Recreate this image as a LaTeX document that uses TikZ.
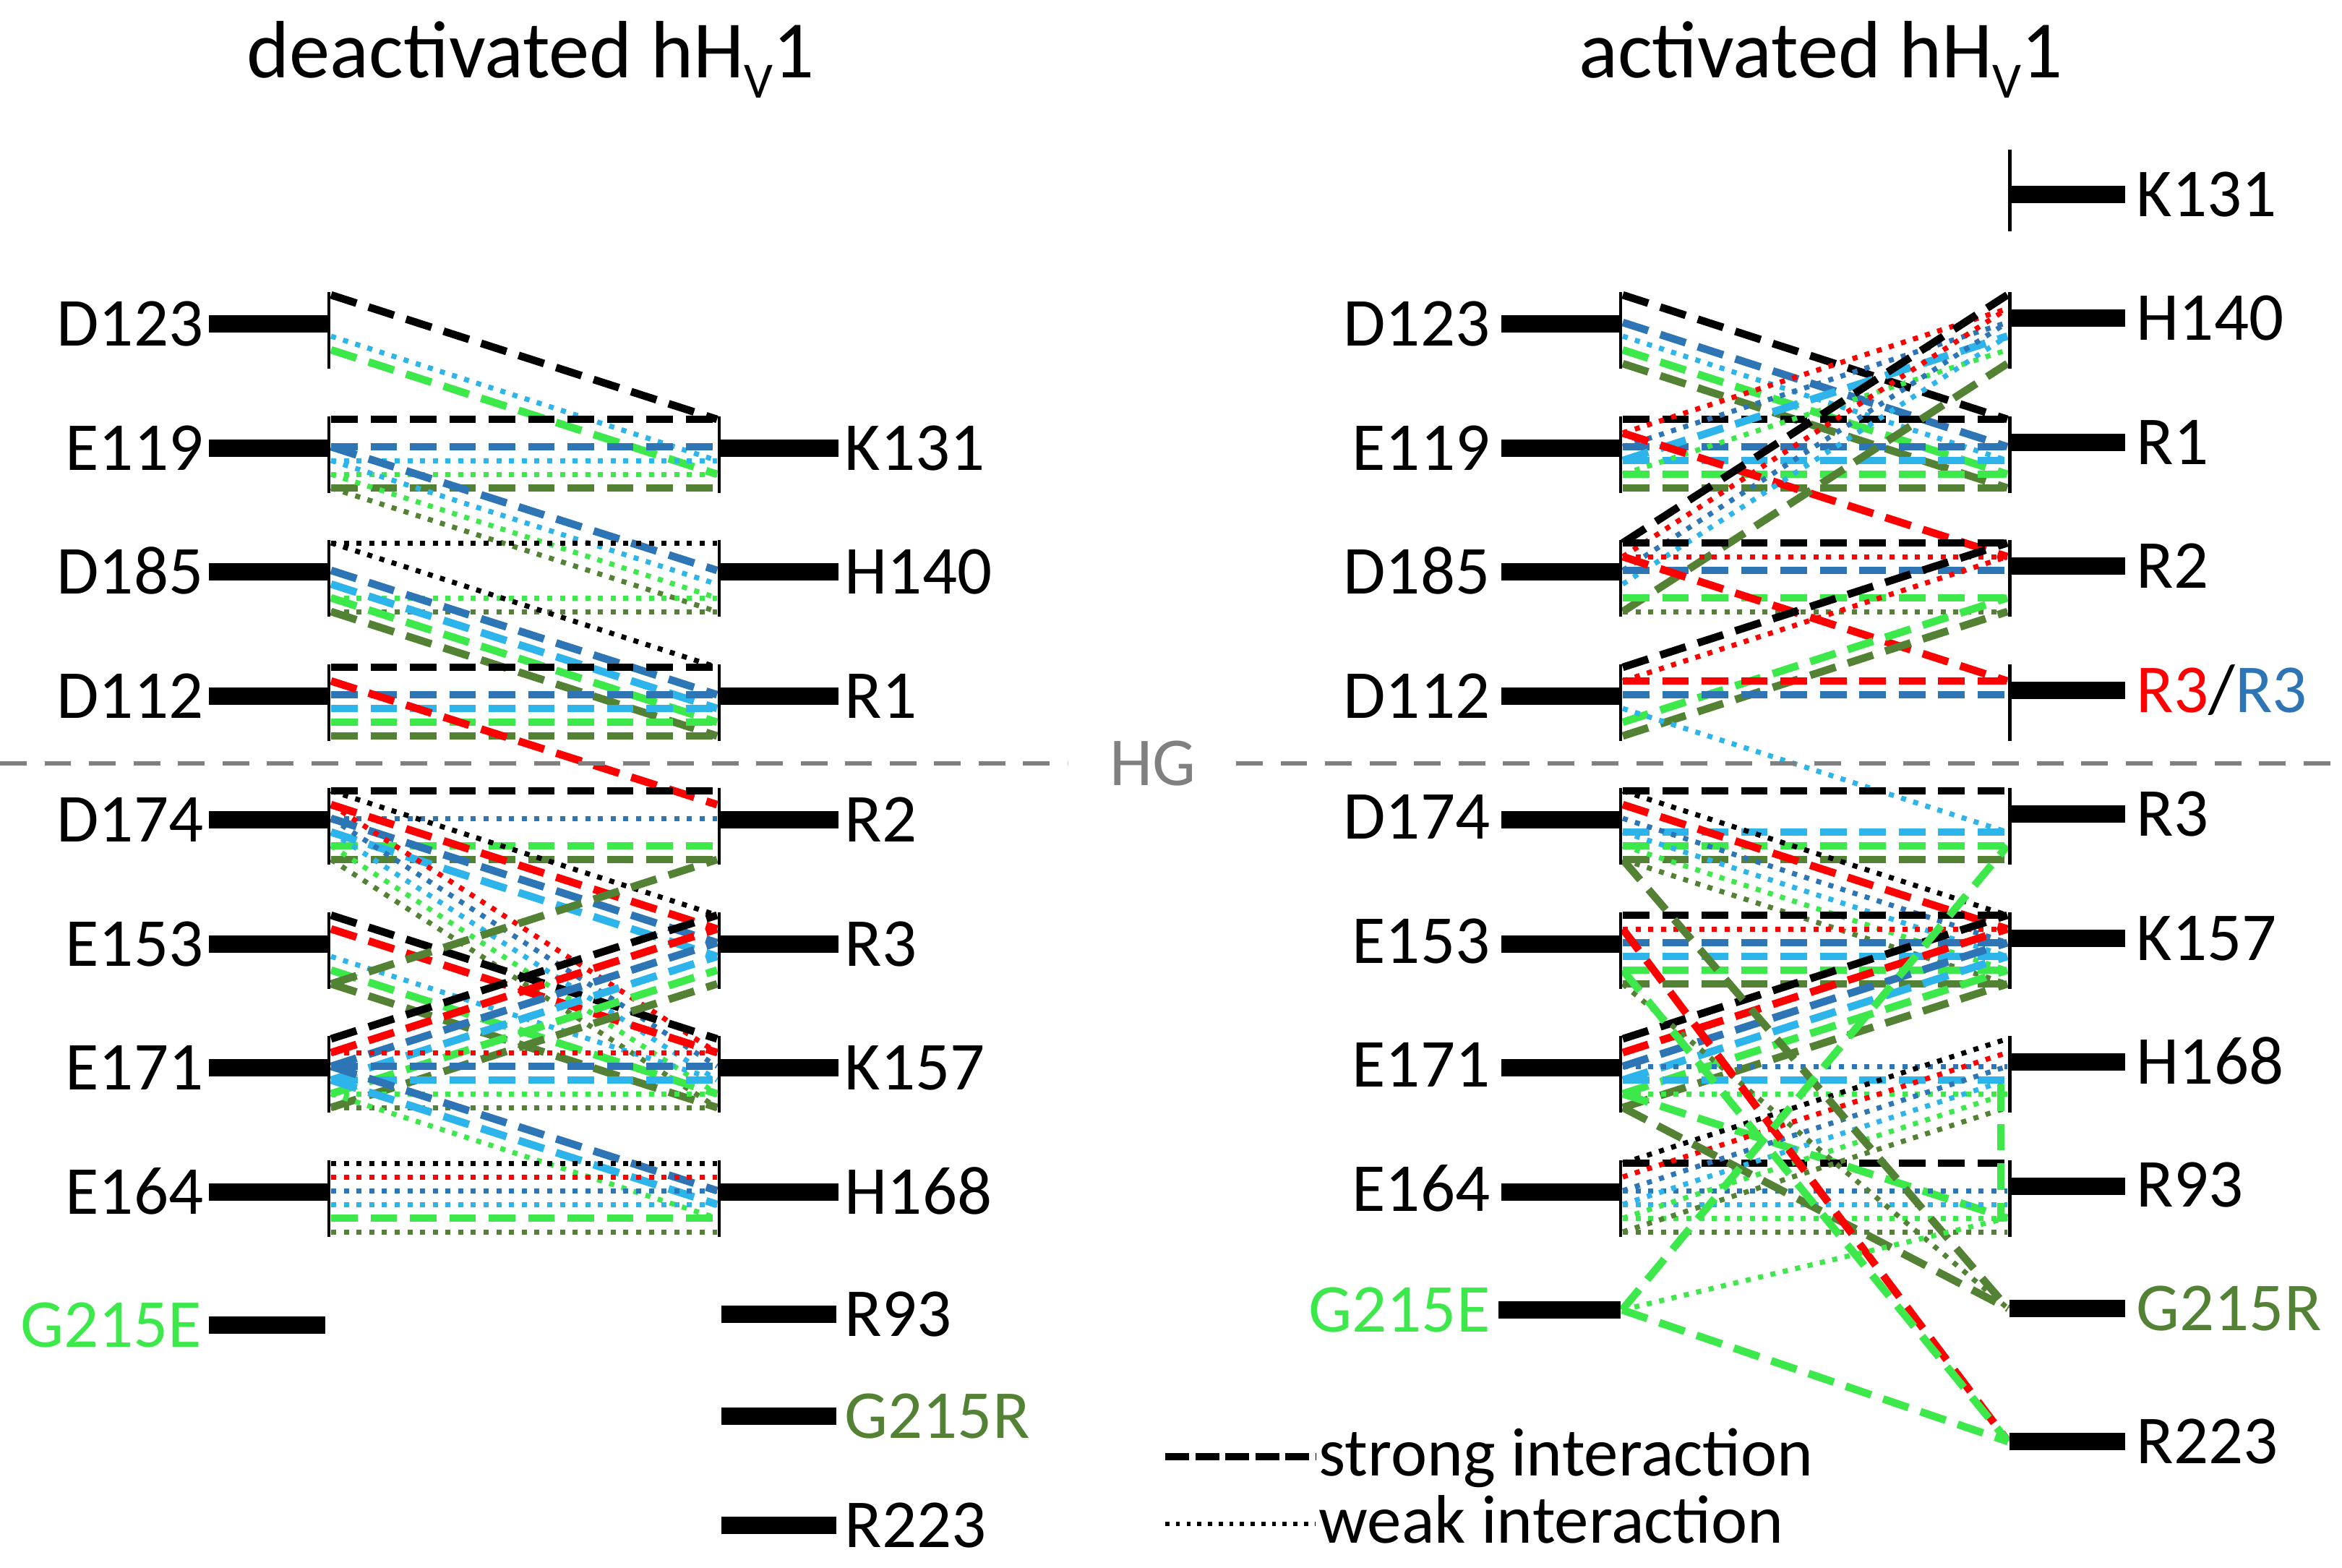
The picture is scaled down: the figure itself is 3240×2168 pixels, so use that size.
\documentclass[tikz,border=0pt]{standalone}
\usepackage{fontspec}
\setmainfont{Carlito}
\definecolor{hvR}{RGB}{255,0,0}
\definecolor{hvB}{RGB}{46,117,182}
\definecolor{hvC}{RGB}{45,180,235}
\definecolor{hvG}{RGB}{60,232,74}
\definecolor{hvD}{RGB}{84,130,53}
\definecolor{hvGray}{RGB}{128,128,128}
\def\lvk{0}\def\lvr{1}\def\lvb{2}\def\lvc{3}\def\lvg{4}\def\lvd{5}
\newcommand\ia[5]{\edef\iaLv{\csname lv#2\endcsname}\draw[c#2,#3] (#1L#4-\iaLv) -- (#1R#5-\iaLv);}
\tikzset{
  ck/.style={draw=black}, cr/.style={draw=hvR}, cb/.style={draw=hvB},
  cc/.style={draw=hvC}, cg/.style={draw=hvG}, cd/.style={draw=hvD},
  st/.style={line width=3pt, dash pattern=on 10.5pt off 5pt},
  wk/.style={line width=2pt, dash pattern=on 2pt off 3pt},
  bar/.style={line width=7pt},
  brk/.style={line width=1.4pt},
  lab/.style={font=\fontsize{27}{30}\selectfont, inner sep=0pt},
  ttl/.style={font=\fontsize{32}{36}\selectfont, inner sep=0pt}
}
\begin{document}
\begin{tikzpicture}[x=0.01cm,y=-0.01cm]
\useasboundingbox (0,0) rectangle (3240,2168);
% level coordinates
\foreach \r/\y in {1/448,2/620,3/791,4/963,5/1134,6/1306,7/1477,8/1649}{
  \foreach \l in {0,...,5}{
    \coordinate (AL\r-\l) at (458,\y-40+\l*19);
    \coordinate (AR\r-\l) at (992,\y-40+\l*19);
    \coordinate (BL\r-\l) at (2245,\y-40+\l*19);
    \coordinate (BR\r-\l) at (2777,\y-40+\l*19);
  }
}
\coordinate (BGE) at (2244,1812);
\coordinate (BGR) at (2778,1810);
\coordinate (BRR) at (2778,1994);
\coordinate (vgA) at (2768,1500);
\coordinate (vgB) at (2768,1690);

% ---------- panel A interactions ----------
\ia{A}{k}{st}{1}{2}\ia{A}{c}{wk}{1}{2}\ia{A}{g}{st}{1}{2}
\ia{A}{k}{st}{2}{2}\ia{A}{b}{st}{2}{2}\ia{A}{c}{wk}{2}{2}\ia{A}{g}{wk}{2}{2}\ia{A}{d}{st}{2}{2}
\ia{A}{b}{st}{2}{3}\ia{A}{c}{wk}{2}{3}\ia{A}{g}{wk}{2}{3}\ia{A}{d}{wk}{2}{3}
\ia{A}{k}{wk}{3}{3}\ia{A}{g}{wk}{3}{3}\ia{A}{d}{wk}{3}{3}
\ia{A}{k}{wk}{3}{4}\ia{A}{b}{st}{3}{4}\ia{A}{c}{st}{3}{4}\ia{A}{g}{st}{3}{4}\ia{A}{d}{st}{3}{4}
\ia{A}{k}{st}{4}{4}\ia{A}{b}{st}{4}{4}\ia{A}{c}{st}{4}{4}\ia{A}{g}{st}{4}{4}\ia{A}{d}{st}{4}{4}
\ia{A}{r}{st}{4}{5}
\ia{A}{k}{st}{5}{5}\ia{A}{b}{wk}{5}{5}\ia{A}{g}{st}{5}{5}\ia{A}{d}{st}{5}{5}
\ia{A}{k}{wk}{5}{6}\ia{A}{r}{st}{5}{6}\ia{A}{b}{st}{5}{6}\ia{A}{c}{st}{5}{6}
\ia{A}{r}{wk}{5}{7}\ia{A}{b}{wk}{5}{7}\ia{A}{c}{wk}{5}{7}\ia{A}{g}{wk}{5}{7}\ia{A}{d}{wk}{5}{7}
\ia{A}{k}{st}{6}{7}\ia{A}{r}{st}{6}{7}\ia{A}{c}{wk}{6}{7}\ia{A}{g}{st}{6}{7}\ia{A}{d}{st}{6}{7}
\ia{A}{d}{st}{6}{5}
\ia{A}{k}{st}{7}{6}\ia{A}{r}{st}{7}{6}\ia{A}{b}{st}{7}{6}\ia{A}{c}{st}{7}{6}\ia{A}{g}{st}{7}{6}\ia{A}{d}{st}{7}{6}
\ia{A}{r}{wk}{7}{7}\ia{A}{b}{st}{7}{7}\ia{A}{c}{st}{7}{7}\ia{A}{g}{wk}{7}{7}\ia{A}{d}{wk}{7}{7}
\ia{A}{b}{st}{7}{8}\ia{A}{c}{st}{7}{8}\ia{A}{g}{wk}{7}{8}
\ia{A}{k}{wk}{8}{8}\ia{A}{r}{wk}{8}{8}\ia{A}{b}{wk}{8}{8}\ia{A}{c}{wk}{8}{8}\ia{A}{g}{st}{8}{8}\ia{A}{d}{wk}{8}{8}

% ---------- panel B interactions ----------
\ia{B}{k}{st}{1}{2}\ia{B}{b}{st}{1}{2}\ia{B}{c}{wk}{1}{2}\ia{B}{g}{st}{1}{2}\ia{B}{d}{st}{1}{2}
\ia{B}{k}{st}{2}{2}\ia{B}{b}{st}{2}{2}\ia{B}{c}{st}{2}{2}\ia{B}{g}{st}{2}{2}\ia{B}{d}{st}{2}{2}
\ia{B}{r}{wk}{2}{1}\ia{B}{b}{wk}{2}{1}\ia{B}{c}{st}{2}{1}\ia{B}{g}{wk}{2}{1}
\ia{B}{r}{st}{2}{3}
\ia{B}{k}{st}{3}{1}\ia{B}{r}{wk}{3}{1}\ia{B}{b}{wk}{3}{1}\ia{B}{c}{wk}{3}{1}\ia{B}{d}{st}{3}{1}
\ia{B}{k}{st}{3}{3}\ia{B}{r}{wk}{3}{3}\ia{B}{b}{st}{3}{3}\ia{B}{g}{st}{3}{3}\ia{B}{d}{wk}{3}{3}
\ia{B}{r}{st}{3}{4}
\ia{B}{k}{st}{4}{3}\ia{B}{r}{wk}{4}{3}\ia{B}{g}{st}{4}{3}\ia{B}{d}{st}{4}{3}
\ia{B}{r}{st}{4}{4}\ia{B}{b}{st}{4}{4}
\ia{B}{c}{wk}{4}{5}
\ia{B}{k}{st}{5}{5}\ia{B}{c}{st}{5}{5}\ia{B}{g}{st}{5}{5}\ia{B}{d}{st}{5}{5}
\ia{B}{k}{wk}{5}{6}\ia{B}{r}{st}{5}{6}\ia{B}{b}{wk}{5}{6}\ia{B}{c}{wk}{5}{6}\ia{B}{g}{wk}{5}{6}\ia{B}{d}{wk}{5}{6}
\ia{B}{k}{st}{6}{6}\ia{B}{r}{wk}{6}{6}\ia{B}{b}{st}{6}{6}\ia{B}{c}{st}{6}{6}\ia{B}{g}{st}{6}{6}\ia{B}{d}{st}{6}{6}
\ia{B}{k}{st}{7}{6}\ia{B}{r}{st}{7}{6}\ia{B}{b}{st}{7}{6}\ia{B}{c}{st}{7}{6}\ia{B}{g}{st}{7}{6}\ia{B}{d}{st}{7}{6}
\ia{B}{b}{wk}{7}{7}\ia{B}{c}{st}{7}{7}\ia{B}{g}{wk}{7}{7}
\ia{B}{g}{st}{7}{8}
\ia{B}{k}{st}{8}{8}\ia{B}{b}{wk}{8}{8}\ia{B}{c}{wk}{8}{8}\ia{B}{g}{wk}{8}{8}\ia{B}{d}{wk}{8}{8}
\ia{B}{k}{wk}{8}{7}\ia{B}{r}{wk}{8}{7}\ia{B}{b}{wk}{8}{7}\ia{B}{c}{wk}{8}{7}\ia{B}{g}{wk}{8}{7}\ia{B}{d}{wk}{8}{7}
\draw[cd,st] (BL5-5) -- (BGR);
\draw[cd,st] (BL7-5) -- (BGR);
\draw[cd,wk] (BL6-5) -- (BGR);
\draw[cr,st] (BL6-1) -- (BRR);
\draw[cg,st] (BL6-4) -- (BRR);
\draw[cg,st] (BGE) -- (BR5-4);
\draw[cg,wk] (BGE) -- (BR8-4);
\draw[cg,st] (BGE) -- (BRR);
\draw[cg,st] (vgA) -- (vgB);

% ---------- brackets ----------
\foreach \y in {448,620,791,963,1134,1306,1477,1649}{
  \draw[brk] (455,\y-44) -- (455,\y+62);
  \draw[brk] (2242,\y-44) -- (2242,\y+62);
  \draw[brk] (2780,\y-44) -- (2780,\y+62);
}
\foreach \y in {620,791,963,1134,1306,1477,1649}{
  \draw[brk] (995,\y-44) -- (995,\y+62);
}
\draw[brk] (2780,207) -- (2780,320);

% ---------- bars ----------
\foreach \y in {448,620,791,963,1134,1306,1477,1649}{
  \draw[bar] (289,\y) -- (455,\y);
  \draw[bar] (2077,\y) -- (2242,\y);
  \draw[bar] (2780,\y-8) -- (2940,\y-8);
}
\foreach \y in {620,791,963,1134,1306,1477,1649}{
  \draw[bar] (995,\y) -- (1160,\y);
}
\draw[bar] (289,1833) -- (450,1833);
\draw[bar] (998,1818) -- (1157,1818);
\draw[bar] (998,1959) -- (1157,1959);
\draw[bar] (998,2110) -- (1157,2110);
\draw[bar] (2073,1812) -- (2242,1812);
\draw[bar] (2780,269) -- (2940,269);
\draw[bar] (2780,1810) -- (2940,1810);
\draw[bar] (2780,1994) -- (2940,1994);

% ---------- HG line ----------
\coordinate (hg1) at (0,1056);
\coordinate (hg2) at (1477,1056);
\coordinate (hg3) at (1710,1056);
\coordinate (hg4) at (3240,1056);
\draw[hvGray, line width=1.9pt, dash pattern=on 10.5pt off 7pt] (hg1) -- (hg2);
\draw[hvGray, line width=1.9pt, dash pattern=on 10.5pt off 7pt] (hg3) -- (hg4);
\node[lab, text=hvGray, anchor=base] (hg) at (1595,1086) {HG};

% ---------- titles ----------
\node[ttl, anchor=base] (t1) at (734,107) {deactivated hH\raisebox{-8pt}{\fontsize{20}{20}\selectfont V}1};
\node[ttl, anchor=base] (t2) at (2519,107) {activated hH\raisebox{-8pt}{\fontsize{20}{20}\selectfont V}1};

% ---------- labels panel A ----------
\foreach \n/\t/\y in {a1/D123/448,a2/E119/620,a3/D185/791,a4/D112/963,a5/D174/1134,a6/E153/1306,a7/E171/1477,a8/E164/1649}{
  \node[lab, anchor=base east] (\n) at (282,\y+30) {\t};
}
\node[lab, anchor=base east, text=hvG] (a9) at (280,1863) {G215E};
\foreach \n/\t/\y in {ar2/K131/620,ar3/H140/791,ar4/R1/963,ar5/R2/1134,ar6/R3/1306,ar7/K157/1477,ar8/H168/1649,ar9/R93/1818,ar11/R223/2110}{
  \node[lab, anchor=base west] (\n) at (1168,\y+30) {\t};
}
\node[lab, anchor=base west, text=hvD] (ar10) at (1168,1989) {G215R};

% ---------- labels panel B ----------
\foreach \n/\t/\y in {b1/D123/448,b2/E119/620,b3/D185/791,b4/D112/963,b5/D174/1130,b6/E153/1302,b7/E171/1473,b8/E164/1645}{
  \node[lab, anchor=base east] (\n) at (2062,\y+30) {\t};
}
\node[lab, anchor=base east, text=hvG] (b9) at (2062,1842) {G215E};
\foreach \n/\t/\y in {br0/K131/269,br1/H140/440,br2/R1/612,br3/R2/783,br5/R3/1126,br6/K157/1298,br7/H168/1469,br8/R93/1639,br10/R223/1994}{
  \node[lab, anchor=base west] (\n) at (2955,\y+30) {\t};
}
\node[lab, anchor=base west] (br4) at (2955,985) {\textcolor{hvR}{R3}/\textcolor{hvB}{R3}};
\node[lab, anchor=base west, text=hvD] (br9) at (2955,1840) {G215R};

% ---------- legend ----------
\coordinate (l1a) at (1612,2015);
\coordinate (l1b) at (1820,2015);
\coordinate (l2a) at (1612,2108);
\coordinate (l2b) at (1820,2108);
\draw[line width=2.8pt, dash pattern=on 9.4pt off 2.4pt] (l1a) -- (l1b);
\draw[line width=1.6pt, dash pattern=on 1.6pt off 2.6pt] (l2a) -- (l2b);
\node[lab, anchor=base west] (ls) at (1824,2041) {strong interaction};
\node[lab, anchor=base west] (lw) at (1824,2134) {weak interaction};
\end{tikzpicture}
\end{document}
